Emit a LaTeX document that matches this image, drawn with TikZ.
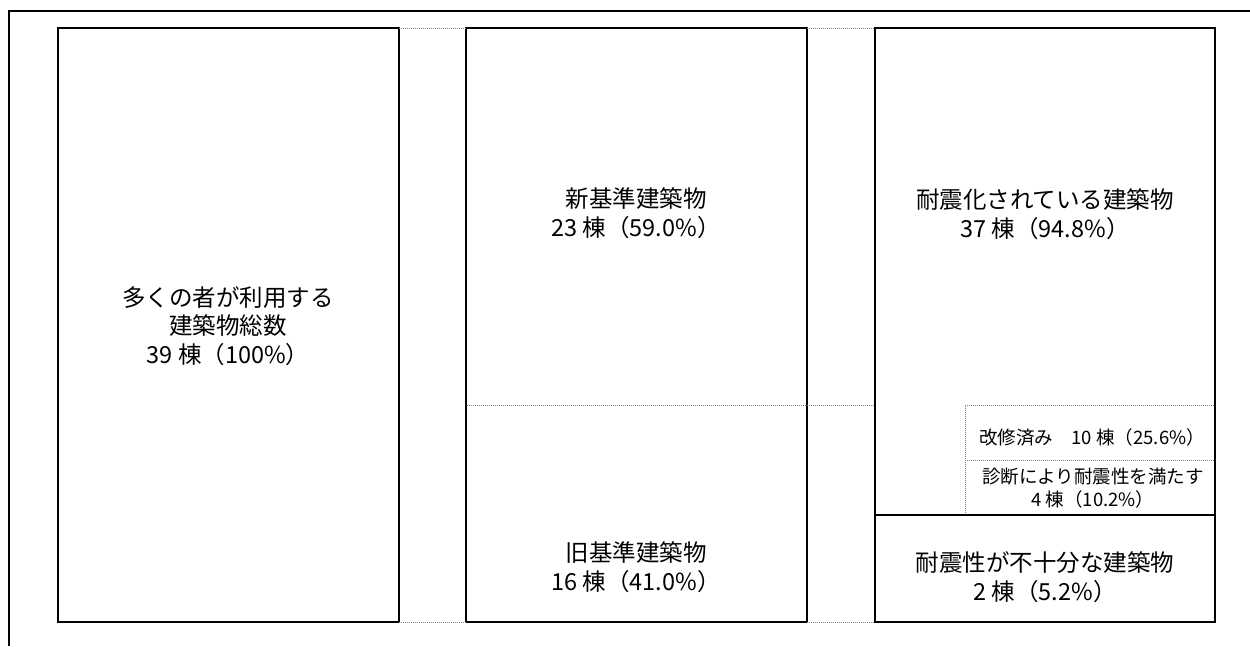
\documentclass[tikz,border=0pt]{standalone}
\usepackage{fontspec}
\newfontfamily\jp{Noto Sans CJK JP}
\begin{document}
\begin{tikzpicture}[x=1pt,y=-1pt,
  frameline/.style={line width=1.6pt,black},
  boxline/.style={line width=2pt,black},
  dotline/.style={line width=1pt,gray,dash pattern=on 1.2pt off 0.8pt},
  bigtext/.style={font=\jp\fontsize{23.5}{28.5}\selectfont,align=center,inner sep=0pt},
  smalltext/.style={font=\jp\fontsize{18.5}{23}\selectfont,align=center,inner sep=0pt}]
\useasboundingbox (0,0) rectangle (1250,646);
% outer frame
\draw[frameline] (9,646) -- (9,11) -- (1250,11);
% main boxes
\draw[boxline] (58,28) rectangle (399,622);
\draw[boxline] (466,28) rectangle (807,622);
\draw[boxline] (875,28) rectangle (1215,622);
% dotted gaps
\draw[dotline] (399,28) -- (466,28);
\draw[dotline] (399,622) -- (466,622);
\draw[dotline] (807,28) -- (875,28);
\draw[dotline] (807,622) -- (875,622);
% split of middle column
\draw[dotline] (467,405) -- (874,405);
% right column subdivisions
\draw[dotline] (965,513) -- (965,405) -- (1214,405);
\draw[dotline] (965,460) -- (1214,460);
\draw[boxline] (875,515) -- (1215,515);
% texts
\node[bigtext] (total) at (228,326) {多くの者が利用する\\建築物総数\\39 棟（100\%）};
\node[bigtext] (new) at (636,213) {新基準建築物\\23 棟（59.0\%）};
\node[bigtext] (old) at (636,567) {旧基準建築物\\16 棟（41.0\%）};
\node[bigtext] (ok) at (1045,214) {耐震化されている建築物\\37 棟（94.8\%）};
\node[smalltext] (fixed) at (1092,437) {改修済み　10 棟（25.6\%）};
\node[smalltext] (diag) at (1093,488) {診断により耐震性を満たす\\4 棟（10.2\%）};
\node[bigtext] (ng) at (1045,577) {耐震性が不十分な建築物\\2 棟（5.2\%）};
\end{tikzpicture}
\end{document}
